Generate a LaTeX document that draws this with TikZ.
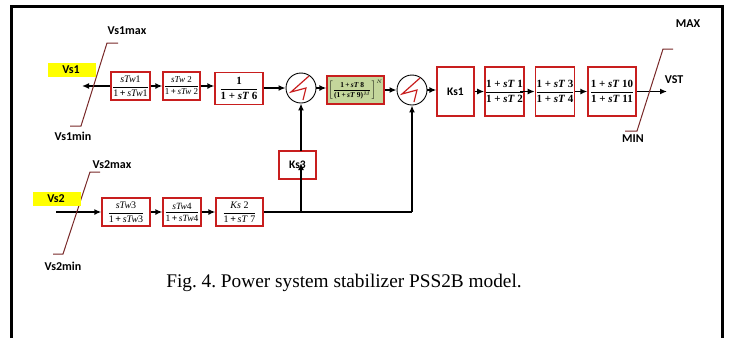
\documentclass[tikz,border=0pt]{standalone}
\usepackage{fontspec}
\setmainfont{Liberation Serif}
\newfontfamily\lab{Carlito}
\usetikzlibrary{arrows.meta}
\definecolor{boxred}{RGB}{200,30,30}
\definecolor{limbrown}{RGB}{120,40,40}
\definecolor{gfill}{RGB}{196,214,155}
\definecolor{yel}{RGB}{255,255,0}
\newcommand{\fr}[2]{$\displaystyle\frac{\mbox{#1}}{\mbox{#2}}$}
\newcommand{\bp}{\,\textbf{+}\,}
\begin{document}
\begin{tikzpicture}[x=1pt,y=-1pt,
  blk/.style={draw=boxred,line width=1.3pt,fill=white,inner sep=0pt,font=\fontsize{10}{11}\selectfont},
  sumc/.style={draw=black,line width=0.9pt,circle,minimum size=30pt,inner sep=0pt,fill=white},
  conn/.style={line width=1.4pt},
  arr/.style={conn,-{Latex[length=7pt,width=6pt]}},
  lim/.style={draw=limbrown,line width=1pt},
  lbl/.style={font=\lab\bfseries\fontsize{12}{13}\selectfont,inner sep=0pt}]
\frenchspacing
\useasboundingbox (0,0) rectangle (731,338);
% frame
\draw[line width=3pt] (11,338) -- (11,6) -- (722,6) -- (722,338);
% top row
\node[blk,minimum width=39pt,minimum height=28pt] (b1) at (130.5,86) {\fr{\textit{sTw}1}{1\bp\textit{sTw}1}};
\node[blk,minimum width=37pt,minimum height=28pt,font=\fontsize{9}{10}\selectfont] (b2) at (181.5,86) {\fr{\textit{sTw} 2}{1\bp\textit{sTw} 2}};
\node[blk,minimum width=48pt,minimum height=32pt,font=\fontsize{11}{12}\selectfont\bfseries] (b3) at (239,88.5) {\fr{1}{1 + \textit{sT} 6}};
\node[sumc] (s1) at (301,88) {};
\node[blk,fill=gfill,minimum width=57pt,minimum height=28pt,font=\fontsize{7.5}{8}\selectfont\bfseries] (g) at (355.5,90) {$\left[\displaystyle\frac{\mbox{1\bp\textit{sT} 8}}{\mbox{(1\bp\textit{sT} 9)}^{M}}\right]^{N}$};
\node[sumc] (s2) at (412,90) {};
\node[blk,minimum width=37pt,minimum height=49pt,font=\lab\bfseries\fontsize{11.5}{12}\selectfont] (k1) at (455.5,91.5) {Ks1};
\node[blk,minimum width=37pt,minimum height=49pt,font=\fontsize{11}{12}\selectfont\bfseries] (t1) at (504.5,91.5) {\fr{1 + \textit{sT} 1}{1 + \textit{sT} 2}};
\node[blk,minimum width=36pt,minimum height=49pt,font=\fontsize{11}{12}\selectfont\bfseries] (t3) at (555,91.5) {\fr{1 + \textit{sT} 3}{1 + \textit{sT} 4}};
\node[blk,minimum width=48pt,minimum height=49pt,font=\fontsize{11}{12}\selectfont\bfseries] (t10) at (612,91.5) {\fr{1 + \textit{sT} 10}{1 + \textit{sT} 11}};
% zigzags
\foreach \c in {s1,s2}{
  \draw[boxred,line width=1.2pt,line join=miter] ([shift={(8,-12)}]\c.center) -- ([shift={(-10,4)}]\c.center) -- ([shift={(5,0)}]\c.center) -- ([shift={(2,12)}]\c.center);
}
% bottom row
\node[blk,minimum width=48pt,minimum height=28pt] (b4) at (126,212) {\fr{\textit{sTw}3}{1\bp\textit{sTw}3}};
\node[blk,minimum width=38pt,minimum height=28pt,font=\fontsize{9.5}{10}\selectfont] (b5) at (182,212) {\fr{\textit{sTw}4}{1\bp\textit{sTw}4}};
\node[blk,minimum width=47pt,minimum height=28pt] (b6) at (239.5,212) {\fr{\textit{Ks} 2}{1\bp\textit{sT} 7}};
\node[blk,minimum width=37pt,minimum height=28pt,font=\lab\bfseries\fontsize{11.5}{12}\selectfont] (ks3) at (297.5,165) {Ks3};
% coordinates
\coordinate (v1e) at (82,86);
\coordinate (v2s) at (56,212);
\coordinate (vst) at (667,91.5);
\coordinate (j1) at (301,212);
\coordinate (j2) at (412,212);
\coordinate (kin) at (301,163);
\coordinate (kout) at (301,151);
% connectors top
\draw[arr] (b1.west) -- (v1e);
\draw[arr] (b1.east) -- (b2.west);
\draw[arr] (b2.east) -- (b2.east -| b3.west);
\draw[arr] (b3.east |- s1.west) -- (s1.west);
\draw[arr] (s1.east) -- (s1.east -| g.west);
\draw[arr] (g.east |- s2.west) -- (s2.west);
\draw[arr] (s2.east) -- (s2.east -| k1.west);
\draw[arr] (k1.east) -- (t1.west);
\draw[arr] ([xshift=-5pt]t1.east) -- (t3.west);
\draw[arr] (t3.east) -- (t10.west);
\draw[arr] (t10.east) -- (vst);
% connectors bottom
\draw[arr] (v2s) -- (b4.west);
\draw[arr] (b4.east) -- (b5.west);
\draw[arr] (b5.east) -- (b6.west);
\draw[conn] (b6.east) -- (j1) -- (j2);
\draw[arr] (j2) -- (s2.south);
\draw[arr] (j1) -- (kin);
\draw[arr] (kout) -- (s1.south);
% limiters
\draw[lim] (118,43) -- (107,43) -- (81,126) -- (70,126);
\draw[lim] (100,172) -- (90,172) -- (63,254) -- (53,254);
\draw[lim] (673,49) -- (663,49) -- (637,131) -- (625,131);
% labels
\node[fill=yel,minimum width=48pt,minimum height=14pt,inner sep=0pt] (y1) at (72,70) {};
\node[lbl] (v1) at (71,70) {Vs1};
\node[fill=yel,minimum width=48pt,minimum height=14pt,inner sep=0pt] (y2) at (57,199) {};
\node[lbl] (v2) at (56,199) {Vs2};
\node[lbl] (v1max) at (127,31) {Vs1max};
\node[lbl] (v1min) at (73,136) {Vs1min};
\node[lbl] (v2max) at (112,165) {Vs2max};
\node[lbl] (v2min) at (63,266) {Vs2min};
\node[lbl] (mx) at (688,24) {MAX};
\node[lbl] (mn) at (633,139) {MIN};
\node[lbl] (vstl) at (674,80) {VST};
\node[font=\fontsize{19.3}{22}\selectfont,inner sep=0pt] (cap) at (344,283) {Fig. 4. Power system stabilizer PSS2B model.};
\end{tikzpicture}
\end{document}
